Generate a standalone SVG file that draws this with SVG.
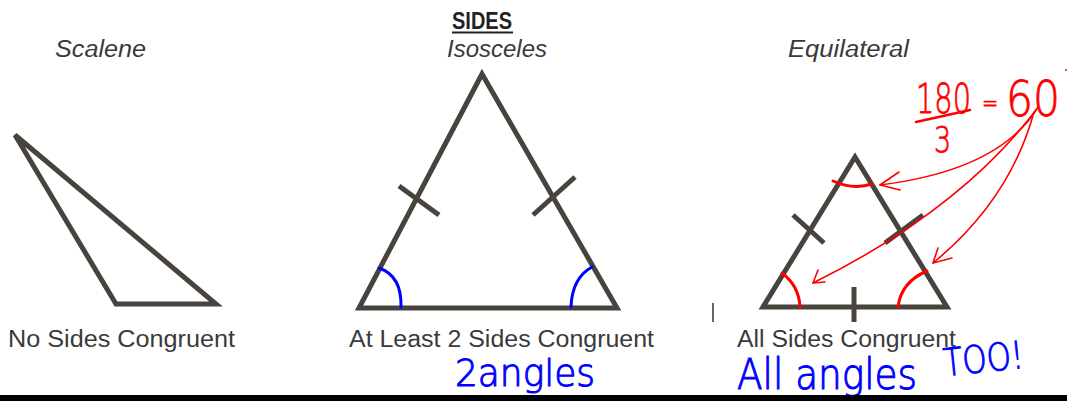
<svg xmlns="http://www.w3.org/2000/svg" width="1067" height="401" viewBox="0 0 1067 401">
<style>
.tri{fill:none;stroke:#48433d;stroke-width:5;stroke-linejoin:miter}
.tick{stroke:#48433d;stroke-width:5;fill:none}
.lbl{font-family:"Liberation Sans",Arial,sans-serif;font-size:23px;fill:#3a3a3a}
.ttl{font-family:"Liberation Sans",Arial,sans-serif;font-size:23px;font-style:italic;fill:#3a3a3a}
.blue{fill:none;stroke:#0000ff;stroke-width:3;stroke-linecap:round}
.red{fill:none;stroke:#ff0000;stroke-width:1.6;stroke-linecap:round}
.redarc{fill:none;stroke:#ff0000;stroke-width:3;stroke-linecap:round}
.hb{font-family:"DejaVu Sans",sans-serif;font-weight:200;fill:#0000ff;stroke:#0000ff;stroke-width:1}
.hr{font-family:"DejaVu Sans",sans-serif;font-weight:200;fill:#ff0000;stroke:#ff0000;stroke-width:0.8}
</style>
<rect width="1067" height="401" fill="#ffffff"/>
<g id="title">
<text x="482" y="29" text-anchor="middle" font-family="Liberation Sans,Arial,sans-serif" font-weight="bold" font-size="23" fill="#222" textLength="60" lengthAdjust="spacingAndGlyphs">SIDES</text>
<line x1="452" y1="32.5" x2="513" y2="32.5" stroke="#222" stroke-width="2"/>
</g>
<g id="scalene">
<text class="ttl" x="55" y="57" textLength="91" lengthAdjust="spacingAndGlyphs">Scalene</text>
<polygon class="tri" points="15,135 116,304 216,304"/>
<text class="lbl" x="8" y="347" textLength="227" lengthAdjust="spacingAndGlyphs">No Sides Congruent</text>
</g>
<g id="isosceles">
<text class="ttl" x="447" y="57" textLength="100" lengthAdjust="spacingAndGlyphs">Isosceles</text>
<polygon class="tri" points="482,74 359,308 617,308"/>
<line class="tick" x1="399" y1="186" x2="439" y2="215"/>
<line class="tick" x1="575" y1="177" x2="533" y2="215"/>
<path class="blue" d="M379,268 Q402,276 401,307"/>
<path class="blue" d="M592,267 Q572,278 571,307"/>
<text class="lbl" x="349" y="347" textLength="305" lengthAdjust="spacingAndGlyphs">At Least 2 Sides Congruent</text>
<text class="hb" x="455" y="386" font-size="38" textLength="140" lengthAdjust="spacingAndGlyphs">2angles</text>
</g>
<g id="equilateral">
<text class="ttl" x="788" y="57" textLength="121" lengthAdjust="spacingAndGlyphs">Equilateral</text>
<polygon class="tri" points="855,157 763,307 947,307"/>
<line class="tick" x1="793" y1="215" x2="824" y2="243"/>
<line class="tick" x1="923" y1="215" x2="885" y2="243"/>
<line class="tick" x1="854" y1="287" x2="854" y2="322"/>
<path class="redarc" d="M833,181 Q853,190 872,184"/>
<path class="redarc" d="M782,273 Q799,286 800,307"/>
<path class="redarc" d="M927,271 Q901,282 898,307"/>
<text class="lbl" x="737" y="347" textLength="219" lengthAdjust="spacingAndGlyphs">All Sides Congruent</text>
<text class="hb" x="737" y="389" font-size="42" textLength="180" lengthAdjust="spacingAndGlyphs">All angles</text>
<text class="hb" x="945" y="376" font-size="38" textLength="80" lengthAdjust="spacingAndGlyphs" transform="rotate(-6 945 376)">TOO!</text>
</g>
<g id="calc">
<text class="hr" transform="translate(916,113) scale(0.72,1)" font-size="40">180</text>
<line x1="916" y1="122" x2="970" y2="110" stroke="#ff0000" stroke-width="2.5" stroke-linecap="round"/>
<text class="hr" transform="translate(934,152) scale(0.75,1)" font-size="36">3</text>
<text class="hr" transform="translate(982,111) scale(0.8,1)" font-size="24">=</text>
<text class="hr" transform="translate(1006,116) scale(0.85,1)" font-size="50">60</text>
<circle cx="1066" cy="70" r="1" fill="#ff0000"/>
</g>
<g id="connectors">
<path class="red" d="M1038,107 Q1000,170 880,185"/>
<path class="red" d="M880,185 L899,172 M880,185 L900,190"/>
<path class="red" d="M1036,110 Q960,210 813,283"/>
<path class="red" d="M813,283 L818,270 M813,283 L825,282"/>
<path class="red" d="M1034,112 Q1010,200 933,263"/>
<path class="red" d="M933,263 L938,248 M933,263 L952,258"/>
</g>
<line x1="713" y1="303" x2="713" y2="322" stroke="#333" stroke-width="1.5"/>
<rect x="0" y="395" width="1067" height="6" fill="#000"/>
</svg>
